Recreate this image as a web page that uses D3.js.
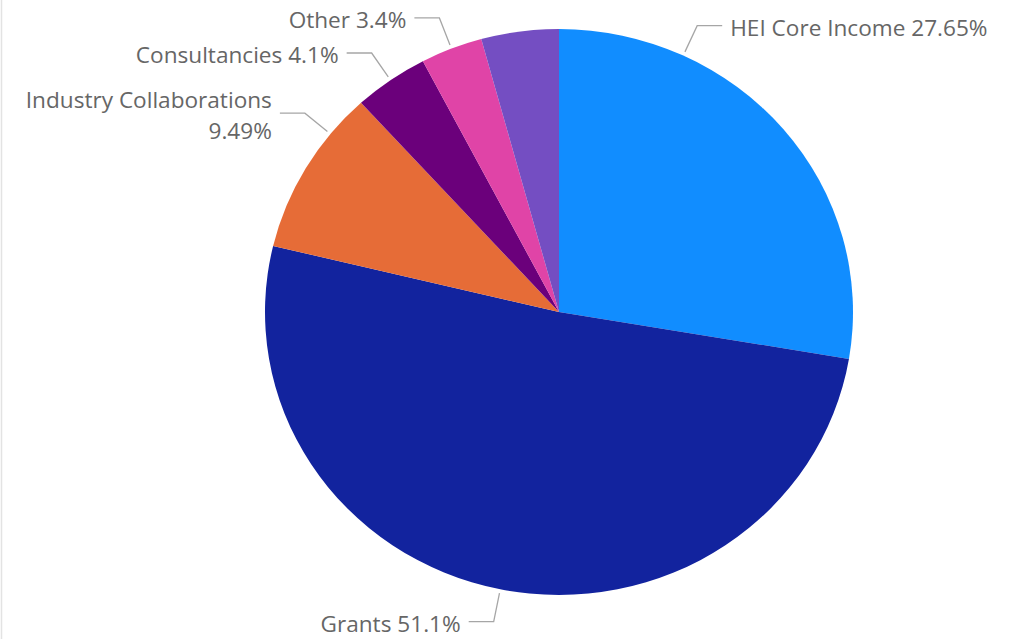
<!DOCTYPE html>
<html>
<head>
<meta charset="utf-8">
<script src="https://cdn.jsdelivr.net/npm/d3@7"></script>
<style>
  html, body { margin: 0; padding: 0; background: #ffffff; }
  svg { display: block; }
  text { font-family: "Segoe UI", "Open Sans", "Noto Sans", sans-serif; }
</style>
</head>
<body>
<svg id="chart" width="1015" height="639"></svg>
<script>
// ---- data ----
const categories = ["HEI Core Income", "Grants", "Industry Collaborations", "Consultancies", "Other", "Unlabelled"];
const values = [27.65, 51.1, 9.49, 4.1, 3.4, 4.26];
const percentLabels = ["27.65%", "51.1%", "9.49%", "4.1%", "3.4%", "4.26%"];
const colors = ["#118DFF", "#12239E", "#E66C37", "#6B007B", "#E044A7", "#744EC2"];

// ---- layout (not data) ----
const W = 1015, H = 639;
const cx = 559, cy = 312, rx = 294, ry = 283;
const showLabel = [true, true, true, true, true, false];
const anchorOverrideDeg = { 0: 25, 2: 309 }; // leader-line anchor angle overrides
const fontSize = 22.6;

const svg = d3.select("#chart");

// card left border
svg.append("line").attr("x1", 1.5).attr("x2", 1.5).attr("y1", 0).attr("y2", H)
  .attr("stroke", "#E3E3E3").attr("stroke-width", 1.5);

const data = categories.map((c, i) => ({ name: c, value: values[i], pct: percentLabels[i], color: colors[i], i }));

const pie = d3.pie().value(d => d.value).sort(null);
const arcs = pie(data);
const arc = d3.arc().innerRadius(0).outerRadius(ry);

const g = svg.append("g").attr("transform", `translate(${cx},${cy}) scale(${rx / ry},1)`);
g.selectAll("path").data(arcs).join("path")
  .attr("d", arc)
  .attr("fill", d => d.data.color);

// labels
const pt = (ang, off) => [cx + (rx + off) * Math.sin(ang), cy - (ry + off) * Math.cos(ang)];
const lab = svg.append("g");
arcs.forEach(a => {
  const i = a.data.i;
  if (!showLabel[i]) return;
  const ang = anchorOverrideDeg[i] !== undefined ? anchorOverrideDeg[i] * Math.PI / 180 : (a.startAngle + a.endAngle) / 2;
  const p0 = pt(ang, 4);
  const p1 = pt(ang, 33);
  const right = Math.sin(ang) >= 0;
  const p2 = [p1[0] + (right ? 25 : -25), p1[1]];
  lab.append("polyline")
    .attr("points", [p0, p1, p2].map(p => p.join(",")).join(" "))
    .attr("fill", "none").attr("stroke", "#A6A6A6").attr("stroke-width", 1.3);
  const tx = p2[0] + (right ? 8 : -8);
  const t = lab.append("text")
    .attr("x", tx).attr("y", p1[1] + 10)
    .attr("text-anchor", right ? "start" : "end")
    .attr("font-size", fontSize).attr("fill", "#666666")
    .text(a.data.name + " " + a.data.pct);
  const w = t.node().getComputedTextLength();
  const fits = right ? (tx + w < W - 5) : (tx - w > 5);
  if (!fits) {
    t.text(null).attr("y", null);
    t.append("tspan").attr("x", tx).attr("y", p1[1] - 5).text(a.data.name);
    t.append("tspan").attr("x", tx).attr("y", p1[1] + 26).text(a.data.pct);
  }
});
</script>
</body>
</html>
